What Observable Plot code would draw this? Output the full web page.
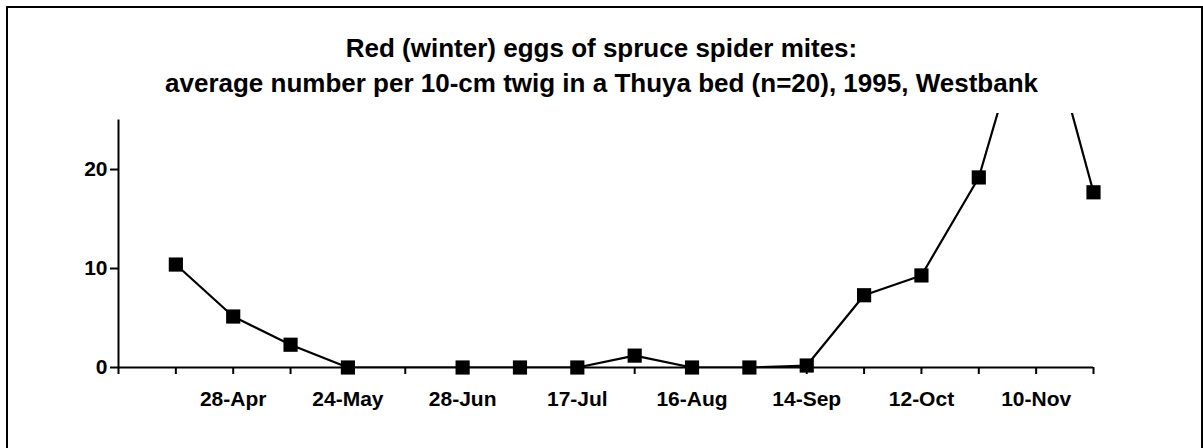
<!DOCTYPE html>
<html><head><meta charset="utf-8">
<script src="https://cdn.jsdelivr.net/npm/d3@7"></script>
<script src="https://cdn.jsdelivr.net/npm/@observablehq/plot@0.6"></script>
<style>
html,body{margin:0;padding:0;background:#fff;}
body{width:1203px;height:448px;overflow:hidden;position:relative;font-family:"Liberation Sans",Arial,sans-serif;}
#chart{position:absolute;left:0;top:0;}
#border{position:absolute;left:6px;top:6px;width:1197px;height:460px;border:2px solid #000;box-sizing:border-box;pointer-events:none;}
#title{position:absolute;left:0;top:31px;width:1203px;text-align:center;font-weight:bold;font-size:26px;line-height:35px;color:#000;}
</style></head>
<body>
<div id="chart"></div>
<div id="border"></div>
<div id="title">Red (winter) eggs of spruce spider mites:<br>average number per 10-cm twig in a Thuya bed (n=20), 1995, Westbank</div>
<script>
// category slots along the x axis (Excel-style category axis)
const sampleIndex = [0, 1, 2, 3, 4, 5, 6, 7, 8, 9, 10, 11, 12, 13, 14, 15, 16, 17];
const tickLabels = ["", "", "28-Apr", "", "24-May", "", "28-Jun", "", "17-Jul", "", "16-Aug", "", "14-Sep", "", "12-Oct", "", "10-Nov", ""];
// average red eggs per 10-cm twig (null = no sample)
const eggs = [null, 10.4, 5.15, 2.3, 0, null, 0, 0, 0, 1.2, 0, 0, 0.2, 7.3, 9.3, 19.2, 39, 17.7];
const yTicks = [0, 10, 20];
const yAxisTop = 25;

const data = sampleIndex.map((k, i) => ({k, v: eggs[i]}));
const defined = data.filter(d => d.v != null);

const chart = Plot.plot({
  width: 1203,
  height: 448,
  marginLeft: 118,
  marginRight: 110,
  marginTop: 113,
  marginBottom: 81,
  x: {domain: [0, 17]},
  y: {domain: [0, 25.66]},
  style: {background: "transparent", fontFamily: "Liberation Sans, Arial, sans-serif", color: "#000"},
  marks: [
    Plot.axisX({ticks: sampleIndex, tickSize: 7, tickPadding: 17, tickFormat: k => tickLabels[k], fontSize: 21, fontWeight: "bold", strokeWidth: 2, label: null}),
    Plot.axisY({ticks: yTicks, tickSize: 8, tickPadding: 3, tickFormat: d => String(d), fontSize: 21, fontWeight: "bold", strokeWidth: 2, label: null}),
    Plot.ruleX([0], {y1: 0, y2: yAxisTop, stroke: "#000", strokeWidth: 2}),
    Plot.ruleY([0], {stroke: "#000", strokeWidth: 2}),
    Plot.line(defined, {x: "k", y: "v", stroke: "#000", strokeWidth: 2.2, clip: true}),
    Plot.dot(defined, {x: "k", y: "v", symbol: "square", r: 8, fill: "#000"})
  ]
});
document.getElementById("chart").appendChild(chart);
</script>
</body></html>
